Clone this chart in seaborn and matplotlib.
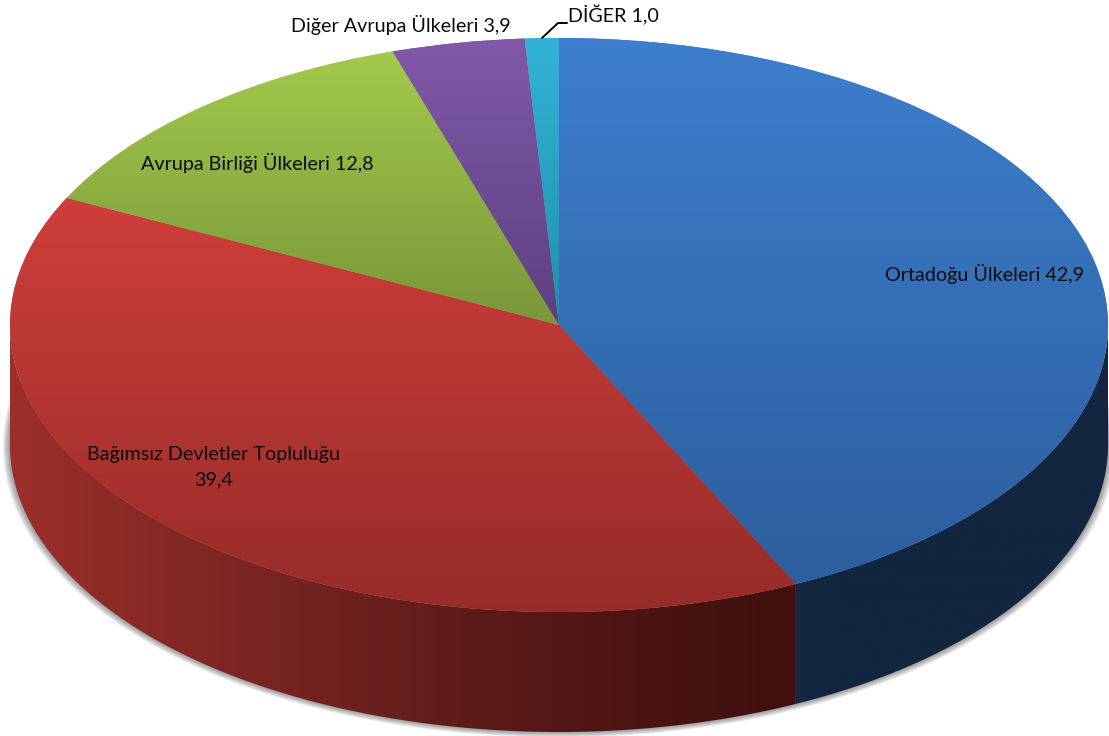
import numpy as np
import matplotlib
matplotlib.use("Agg")
import matplotlib.pyplot as plt
import seaborn as sns
from matplotlib.colors import LinearSegmentedColormap
from matplotlib.patches import Polygon

categories = ["Ortadoğu Ülkeleri", "Bağımsız Devletler Topluluğu", "Avrupa Birliği Ülkeleri",
              "Diğer Avrupa Ülkeleri", "DİĞER"]
values = [42.9, 39.4, 12.8, 3.9, 1.0]
value_labels = ["42,9", "39,4", "12,8", "3,9", "1,0"]
top_light = ["#3d7ecd", "#cf3e3a", "#a2ca4c", "#8059a9", "#32b3d6"]
top_dark = ["#2d5e9e", "#962c29", "#7a963a", "#5c4080", "#2090a8"]

W, H = 1109, 736
CX, CY, RX, RY, DEPTH_PX = 559, 325, 549, 287, 120
depth = DEPTH_PX / RY

sns.set_theme(style="white")
plt.rcParams["font.family"] = ["Lato", "DejaVu Sans"]

fig = plt.figure(figsize=(W / 100, H / 100), dpi=100, facecolor="white")
ax = fig.add_axes([0, 0, 1, 1])

xlim = ((0 - CX) / RX, (W - CX) / RX)
ylim = ((CY - H) / RY, CY / RY)

# soft shadow round the lower rim
for k in range(1, 7):
    sw, _ = ax.pie([1], radius=1 + 0.0022 * k, center=(0, -depth - 0.001 * k), colors=["black"],
                   wedgeprops={"alpha": 0.07, "linewidth": 0})
    sw[0].set_zorder(1)

# top surface
wedges, _ = ax.pie(values, startangle=90, counterclock=False, colors=top_light, radius=1,
                   wedgeprops={"linewidth": 0})

def gradient(cols, extent, horizontal, clip, z):
    cmap = LinearSegmentedColormap.from_list("g", sns.blend_palette(cols, 64))
    g = np.linspace(0, 1, 256)
    arr = g[None, :] if horizontal else g[:, None]
    im = ax.imshow(arr, cmap=cmap, extent=extent, origin="upper", aspect="auto", zorder=z,
                   vmin=0, vmax=1, interpolation="bilinear")
    im.set_clip_path(clip)

for w, a, b in zip(wedges, top_light, top_dark):
    w.set_zorder(4)
    bb = w.get_path().get_extents(w.get_patch_transform())
    gradient([a, b], (-1, 1, bb.y0, bb.y1), False, w, 5)

# extruded rim, from the same shares
cum = np.cumsum([0] + values) / 100 * 360
def rim(start, end):
    t = np.radians(np.linspace(start, end, 200))
    x, y = np.sin(t), np.cos(t)
    pts = np.r_[np.c_[x, y], np.c_[x[::-1], y[::-1] - depth]]
    return Polygon(pts, closed=True, transform=ax.transData, facecolor="none", edgecolor="none")

blue_rim = rim(90, cum[1])
red_rim = rim(cum[1], 270)
for p in (blue_rim, red_rim):
    ax.add_patch(p)
gradient(["#16304f", "#13263f", "#12263f"], (0, 1, -1.6, 0.2), True, blue_rim, 3)
gradient(["#9c2f2b", "#852824", "#702220", "#5c1b18", "#4c1412", "#3f100e"],
         (-1, np.sin(np.radians(cum[1])), -1.6, 0.2), True, red_rim, 3)

# labels
txt = dict(color="#0c0c0c", fontsize=14.2, ha="center", va="center", zorder=10)
ax.text((985 - CX) / RX, (CY - 274) / RY, f"{categories[0]} {value_labels[0]}", **txt)
ax.text((214 - CX) / RX, (CY - 467) / RY, f"{categories[1]}\n{value_labels[1]}", linespacing=1.6, **txt)
ax.text((257 - CX) / RX, (CY - 163) / RY, f"{categories[2]} {value_labels[2]}", **txt)
ax.text((401 - CX) / RX, (CY - 25) / RY, f"{categories[3]} {value_labels[3]}", **txt)
ax.text((613.5 - CX) / RX, (CY - 15) / RY, f"{categories[4]} {value_labels[4]}", **txt)

ax.plot([(542 - CX) / RX, (558 - CX) / RX, (567 - CX) / RX],
        [(CY - 38) / RY, (CY - 23) / RY, (CY - 23) / RY], color="black", lw=1.4, zorder=9, clip_on=False)

ax.set_xlim(*xlim)
ax.set_ylim(*ylim)
ax.set_aspect("auto")
ax.axis("off")
fig.savefig("out.png", dpi=100, facecolor="white")
